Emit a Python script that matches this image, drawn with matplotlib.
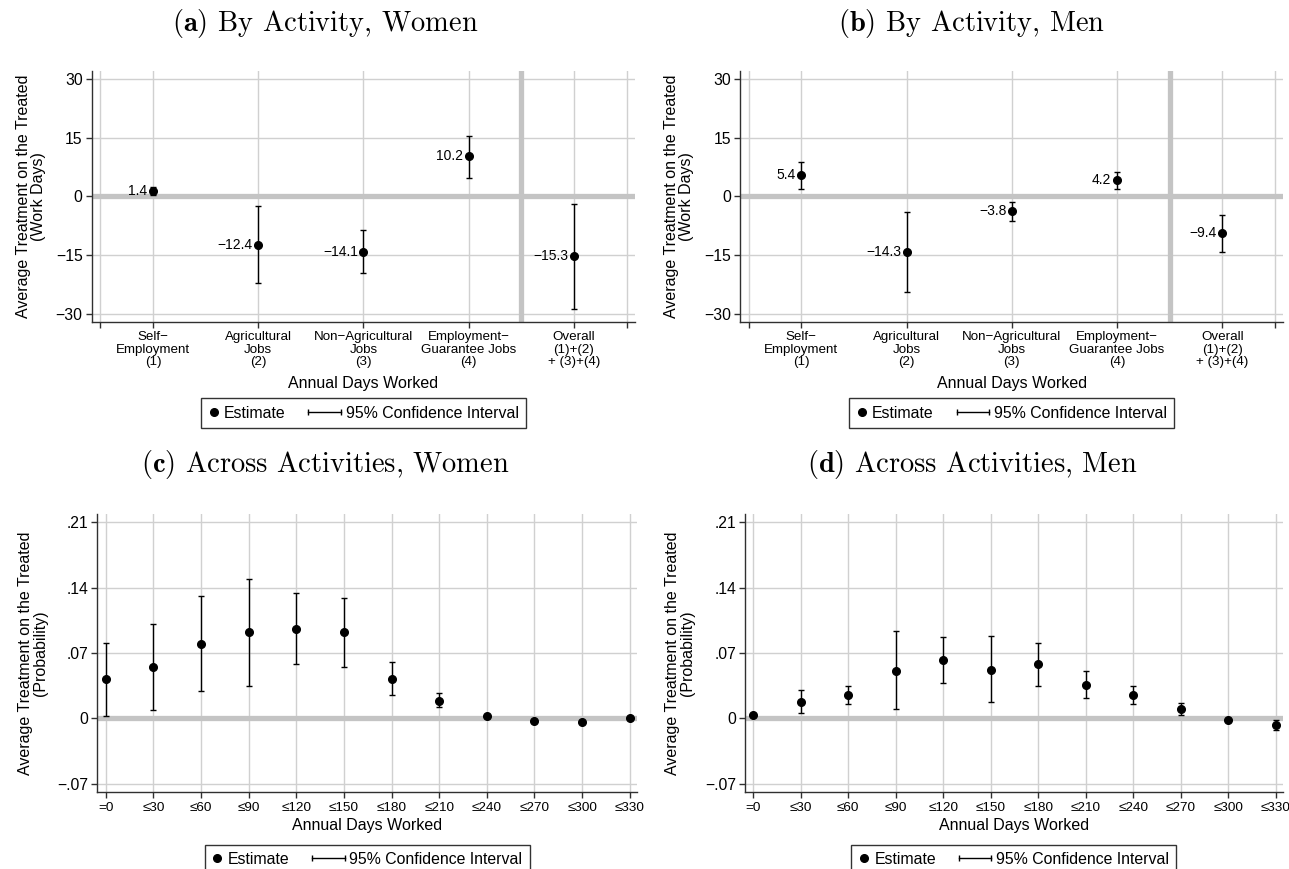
import numpy as np
import matplotlib
matplotlib.use("Agg")
import matplotlib.pyplot as plt
from matplotlib.lines import Line2D
from matplotlib.legend_handler import HandlerLine2D

plt.rcParams['font.family'] = ['Liberation Sans', 'DejaVu Sans']
plt.rcParams['mathtext.fontset'] = 'cm'

# ---- data ----
activity_labels = ['Self\u2212\nEmployment\n(1)', 'Agricultural\nJobs\n(2)',
                   'Non\u2212Agricultural\nJobs\n(3)', 'Employment\u2212\nGuarantee Jobs\n(4)',
                   'Overall\n(1)+(2)\n+ (3)+(4)']
activity_pos = [1, 2, 3, 4, 5]

women_act_est = [1.4, -12.4, -14.1, 10.2, -15.3]
women_act_lo = [0.4, -22.1, -19.6, 4.8, -28.8]
women_act_hi = [2.4, -2.5, -8.5, 15.4, -1.9]

men_act_est = [5.4, -14.3, -3.8, 4.2, -9.4]
men_act_lo = [2.0, -24.4, -6.4, 2.0, -14.1]
men_act_hi = [8.9, -4.1, -1.4, 6.3, -4.7]

days_labels = ['=0', '\u226430', '\u226460', '\u226490', '\u2264120', '\u2264150',
               '\u2264180', '\u2264210', '\u2264240', '\u2264270', '\u2264300', '\u2264330']
days_pos = list(range(12))

women_days_est = [0.042, 0.055, 0.080, 0.092, 0.096, 0.092, 0.042, 0.019, 0.002, -0.003, -0.0036, 0.0007]
women_days_lo = [0.003, 0.009, 0.029, 0.035, 0.058, 0.055, 0.025, 0.012, 0.0005, -0.004, -0.0046, -0.0003]
women_days_hi = [0.081, 0.101, 0.131, 0.149, 0.134, 0.129, 0.060, 0.027, 0.0035, -0.002, -0.0026, 0.0017]

men_days_est = [0.0032, 0.018, 0.025, 0.051, 0.062, 0.052, 0.058, 0.036, 0.025, 0.010, -0.0018, -0.007]
men_days_lo = [0.0022, 0.006, 0.015, 0.010, 0.0375, 0.017, 0.035, 0.022, 0.015, 0.004, -0.003, -0.0125]
men_days_hi = [0.0042, 0.030, 0.035, 0.093, 0.0875, 0.088, 0.081, 0.051, 0.035, 0.016, -0.0006, -0.0015]

act_yticks = [-30, -15, 0, 15, 30]
act_yticklabels = ['\u221230', '\u221215', '0', '15', '30']
days_yticks = [-0.07, 0, 0.07, 0.14, 0.21]
days_yticklabels = ['\u2212.07', '0', '.07', '.14', '.21']

GRID = '#d0d0d0'
REF = '#c4c4c4'
SPINE = '#303030'


class CIHandler(HandlerLine2D):
    # horizontal line with end caps, extending left of the (short) handle box
    def get_xdata(self, legend, xdescent, ydescent, width, height, fontsize):
        x1 = -xdescent + width
        x0 = x1 - 2.05 * fontsize
        xd = np.array([x0, x1])
        return xd, xd


def draw_panel(ax, pos, est, lo, hi, xticks, xticklabels, xlim, ylim, yticks,
               yticklabels, ylabel, xtick_size, legend_y, xlabel_pad,
               value_labels=False):
    est = np.array(est)
    err = [est - np.array(lo), np.array(hi) - est]

    ax.set_axisbelow(True)
    ax.grid(True, color=GRID, lw=1.0)
    ax.axhline(0, color=REF, lw=3.8, zorder=1)

    ax.errorbar(pos, est, yerr=err, fmt='o', color='black', ms=5.5,
                elinewidth=1.0, capsize=2.2, capthick=1.0, zorder=3)

    if value_labels:
        for x, v in zip(pos, est):
            ax.annotate(('%.1f' % v).replace('-', '\u2212'), (x, v),
                        xytext=(-4, 0), textcoords='offset points',
                        ha='right', va='center', fontsize=10)

    ax.set_xlim(xlim)
    ax.set_ylim(ylim)
    ax.set_xticks(xticks)
    ax.set_xticklabels(xticklabels, fontsize=xtick_size, linespacing=1.05)
    ax.set_yticks(yticks)
    ax.set_yticklabels(yticklabels, fontsize=11.3)
    ax.tick_params(axis='both', direction='out', length=4, width=1,
                   color=SPINE, pad=2.5)
    ax.tick_params(axis='x', pad=3)

    for s in ['top', 'right']:
        ax.spines[s].set_visible(False)
    for s in ['left', 'bottom']:
        ax.spines[s].set_color(SPINE)
        ax.spines[s].set_linewidth(1.0)

    ax.set_ylabel(ylabel, fontsize=11.5, labelpad=7, linespacing=1.0)
    ax.set_xlabel('Annual Days Worked', fontsize=11.5, labelpad=xlabel_pad)

    h_est = Line2D([], [], marker='o', color='black', ls='none', ms=5.5)
    h_ci = Line2D([], [], marker='|', color='black', lw=1.0, ms=5, mew=1.0)
    leg = ax.legend([h_est, h_ci], ['Estimate', '95% Confidence Interval'],
                    handler_map={h_ci: CIHandler(numpoints=2)},
                    ncol=2, loc='upper center', bbox_to_anchor=(0.5, legend_y),
                    borderaxespad=0, frameon=True, fancybox=False,
                    fontsize=11.4, handlelength=0.7, handletextpad=0.3,
                    columnspacing=2.8, borderpad=0.45)
    leg.get_frame().set_edgecolor('black')
    leg.get_frame().set_linewidth(1.0)


fig = plt.figure(figsize=(12.89, 8.69), dpi=100)

ax_a = fig.add_axes([0.0711, 0.6298, 0.4215, 0.2888])
ax_b = fig.add_axes([0.5741, 0.6298, 0.4215, 0.2888])
ax_c = fig.add_axes([0.0756, 0.0883, 0.4185, 0.3203])
ax_d = fig.add_axes([0.5780, 0.0883, 0.4171, 0.3203])

act_ticks = [0.5] + activity_pos + [5.5]
act_ticklabels = [''] + activity_labels + ['']
act_ylabel = 'Average Treatment on the Treated\n(Work Days)'
days_ylabel = 'Average Treatment on the Treated\n(Probability)'

for ax, est, lo, hi in [(ax_a, women_act_est, women_act_lo, women_act_hi),
                        (ax_b, men_act_est, men_act_lo, men_act_hi)]:
    ax.axvline(4.5, color=REF, lw=3.8, zorder=1)
    draw_panel(ax, activity_pos, est, lo, hi, act_ticks, act_ticklabels,
               (0.4175, 5.58), (-32.0, 32.1), act_yticks, act_yticklabels,
               act_ylabel, 9.6, -0.306, 5.5, value_labels=True)

for ax, est, lo, hi in [(ax_c, women_days_est, women_days_lo, women_days_hi),
                        (ax_d, men_days_est, men_days_lo, men_days_hi)]:
    draw_panel(ax, days_pos, est, lo, hi, days_pos, days_labels,
               (-0.172, 11.15), (-0.0792, 0.2189), days_yticks, days_yticklabels,
               days_ylabel, 9.7, -0.188, 3)

# sub-captions
title_kw = dict(family='cmr10', fontsize=20.5, ha='center', va='baseline')
fig.text(325 / 1289, 1 - 31 / 869, r'$\mathbf{(a)}$ By Activity, Women', **title_kw)
fig.text(972 / 1289, 1 - 31 / 869, r'$\mathbf{(b)}$ By Activity, Men', **title_kw)
fig.text(325 / 1289, 1 - 472 / 869, r'$\mathbf{(c)}$ Across Activities, Women', **title_kw)
fig.text(972 / 1289, 1 - 472 / 869, r'$\mathbf{(d)}$ Across Activities, Men', **title_kw)

fig.savefig('out.png', dpi=100, facecolor='white')
